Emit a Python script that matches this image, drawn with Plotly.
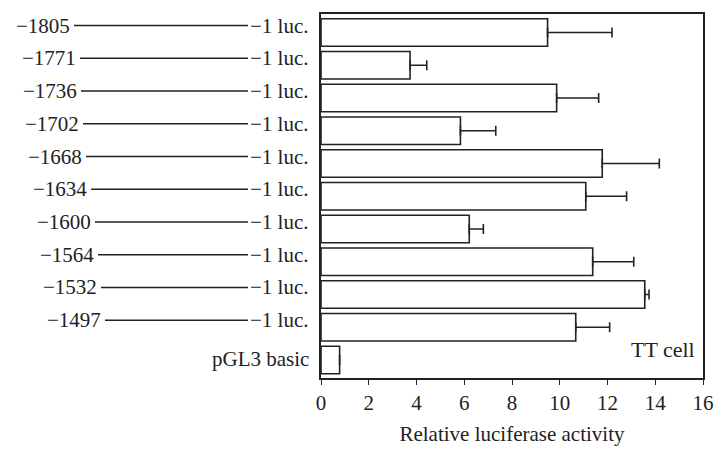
import plotly.graph_objects as go

# ---- data ----
constructs = ["−1805", "−1771", "−1736", "−1702", "−1668",
              "−1634", "−1600", "−1564", "−1532", "−1497", "pGL3 basic"]
activity = [9.49, 3.73, 9.87, 5.84, 11.78, 11.09, 6.21, 11.38, 13.56, 10.67, 0.78]
sd = [2.70, 0.70, 1.76, 1.48, 2.39, 1.71, 0.59, 1.72, 0.18, 1.42, 0.0]

# ---- layout settings ----
W, H = 725, 461
ML, MR, MT, MB = 321, 22, 14, 83
PW = W - ML - MR
font_name = "Liberation Serif"
ink = "#222222"
fsize = 21

# pixel x where each left connector line starts (staggered in the original)
line_start_px = [74, 80, 81, 83, 86, 91, 95, 98, 101, 105]
line_end_px = 248
luc_left_px = 250


def px_to_paper(px):
    return (px - ML) / PW


fig = go.Figure()
fig.add_trace(go.Bar(
    y=constructs,
    x=activity,
    orientation="h",
    width=0.84,
    marker=dict(color="white", line=dict(color=ink, width=1.6)),
    error_x=dict(type="data", symmetric=False, array=sd,
                 arrayminus=[0] * len(sd), color=ink, thickness=1.6, width=5),
    showlegend=False,
    hoverinfo="skip",
))

annotations = []
shapes = []
for i, name in enumerate(constructs):
    if name.startswith("pGL3"):
        annotations.append(dict(
            x=px_to_paper(311), xref="paper", y=name, yref="y",
            text=name, showarrow=False, xanchor="right", yshift=1,
            font=dict(family=font_name, size=fsize, color=ink)))
        continue
    annotations.append(dict(
        x=px_to_paper(line_start_px[i] - 2), xref="paper", y=name, yref="y",
        text=name, showarrow=False, xanchor="right", yshift=7,
        font=dict(family=font_name, size=fsize, color=ink)))
    annotations.append(dict(
        x=px_to_paper(luc_left_px - 2), xref="paper", y=name, yref="y",
        text="−1 luc.", showarrow=False, xanchor="left", yshift=7,
        font=dict(family=font_name, size=fsize, color=ink)))
    shapes.append(dict(
        type="line", xref="paper", yref="y", ysizemode="pixel", yanchor=i,
        x0=px_to_paper(line_start_px[i]), x1=px_to_paper(line_end_px),
        y0=7, y1=7, line=dict(color=ink, width=1.6)))

annotations.append(dict(
    x=0.985, xref="paper", y=constructs[-1], yref="y", yshift=10,
    text="TT cell", showarrow=False, xanchor="right",
    font=dict(family=font_name, size=22, color=ink)))

fig.update_layout(
    width=W, height=H,
    margin=dict(l=ML, r=MR, t=MT, b=MB),
    paper_bgcolor="white", plot_bgcolor="white",
    font=dict(family=font_name, size=fsize, color=ink),
    annotations=annotations,
    shapes=shapes,
    xaxis=dict(
        range=[0, 16], dtick=2, tick0=0,
        showline=True, mirror=True, linecolor=ink, linewidth=1.6,
        ticks="outside", ticklen=5, tickwidth=1.4, tickcolor=ink,
        showgrid=False, zeroline=False,
        tickfont=dict(family=font_name, size=fsize, color=ink),
        title=dict(text="Relative luciferase activity", standoff=12,
                   font=dict(family=font_name, size=fsize, color=ink)),
    ),
    yaxis=dict(
        type="category", categoryorder="array", categoryarray=constructs,
        range=[10.55, -0.565],
        showline=True, mirror=True, linecolor=ink, linewidth=1.6,
        showticklabels=False, ticks="", showgrid=False, zeroline=False,
    ),
)

fig.write_html("out.html", config={"displayModeBar": False},
               post_script="document.body.style.margin='0';")
